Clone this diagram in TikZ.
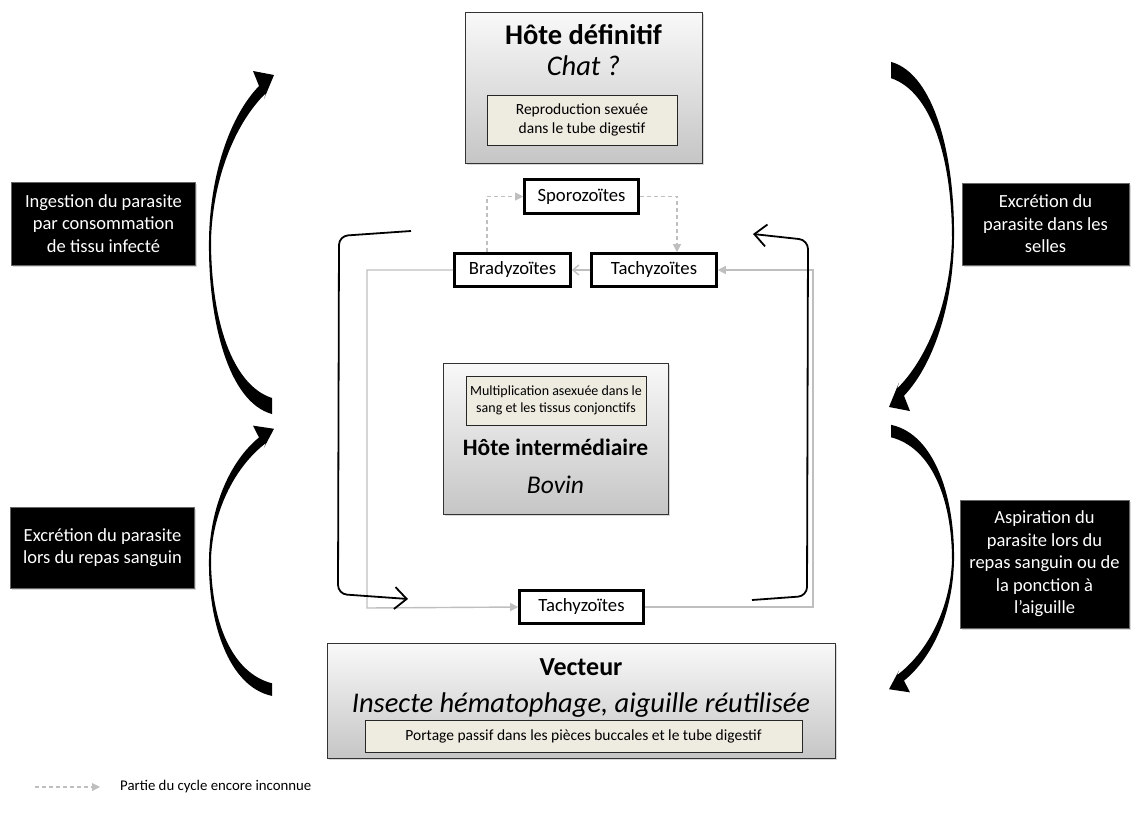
\documentclass[tikz,border=0pt]{standalone}
\usepackage{fontspec}
\setmainfont{Carlito}
\usetikzlibrary{arrows.meta,shadows}
\definecolor{innerfill}{HTML}{EEECE1}
\definecolor{cycgray}{HTML}{BFBFBF}
\newcommand\crescentfill{%
  \fill[black] (0,340) .. controls (-44,328) and (-64,246) .. (-63,166)
      .. controls (-62,100) and (-42,42) .. (-13,12)
      -- (-19,-3) -- (2,1) -- (-8,25) -- (-6,19)
      .. controls (-35,47) and (-59,101) .. (-61,166)
      .. controls (-61,246) and (-40,311) .. (0,324) -- cycle;}
\begin{document}
\begin{tikzpicture}[x=1pt,y=-1pt,
  bigbox/.style={draw=black!80, line width=0.9pt, top color=gray!5, bottom color=gray!45,
    drop shadow={opacity=0.3,shadow xshift=1.5pt,shadow yshift=-1.5pt}},
  innerbox/.style={draw=black!85, line width=0.9pt, fill=innerfill, align=center, inner sep=0pt,
    font=\fontsize{15.5}{18.5}\selectfont},
  blackbox/.style={fill=black, draw=black!60, line width=0.8pt, align=center, text=white, inner sep=0pt,
    font=\fontsize{18.5}{22.5}\selectfont,
    drop shadow={opacity=0.3,shadow xshift=1.5pt,shadow yshift=-1.5pt}},
  stage/.style={draw=black, line width=2.6pt, fill=white, inner sep=0pt,
    font=\fontsize{18.7}{21}\selectfont},
  titlebf/.style={font=\bfseries\fontsize{28.5}{32}\selectfont, inner sep=0pt},
  titleit/.style={font=\itshape\fontsize{28.5}{32}\selectfont, inner sep=0pt},
  cyc/.style={draw=cycgray, line width=1.4pt, -{Triangle[length=8pt,width=8pt]}},
  unk/.style={draw=cycgray, line width=1.1pt, dash pattern=on 4pt off 3pt, -{Triangle[length=8pt,width=8pt]}},
  flow/.style={draw=black, line width=1.8pt, rounded corners=9pt,
    -{Straight Barb[length=12pt,width=22pt,line width=1.8pt]}}]
\useasboundingbox (0,0) rectangle (1138,814);

% big boxes
\node[bigbox, minimum width=237pt, minimum height=151pt] (hd) at (583.5,87.5) {};
\node[titlebf] (hdt) at (583.5,35) {Hôte définitif};
\node[titleit] (hds) at (583.5,65.5) {Chat ?};
\node[innerbox, minimum width=190pt, minimum height=50pt] (hdi) at (582,120) {Reproduction sexuée\\dans le tube digestif};

\node[bigbox, minimum width=225pt, minimum height=151pt] (hi) at (555.5,438.5) {};
\node[innerbox, minimum width=180pt, minimum height=49pt, font=\fontsize{14}{17.5}\selectfont] (hii) at (556,400.5) {Multiplication asexuée dans le\\sang et les tissus conjonctifs};
\node[titlebf, font=\bfseries\fontsize{23.5}{27}\selectfont] (hit) at (555.5,447.5) {Hôte intermédiaire};
\node[titleit, font=\itshape\fontsize{25.5}{29}\selectfont] (his) at (555.5,485) {Bovin};

\node[bigbox, minimum width=508pt, minimum height=115pt] (ve) at (581,700.5) {};
\node[titlebf, font=\bfseries\fontsize{26}{30}\selectfont] (vet) at (581,667.5) {Vecteur};
\node[titleit] (ves) at (581,705) {Insecte hématophage, aiguille réutilisée};
\node[innerbox, minimum width=437pt, minimum height=32pt] (vei) at (583.5,736) {Portage passif dans les pièces buccales et le tube digestif};

% black boxes
\node[blackbox, minimum width=184pt, minimum height=83pt] (l1) at (103.5,223.5) {Ingestion du parasite\\par consommation\\de tissu infecté};
\node[blackbox, minimum width=184pt, minimum height=81pt] (l2) at (102.5,547.5) {Excrétion du parasite\\lors du repas sanguin};
\node[blackbox, minimum width=167pt, minimum height=82pt] (r1) at (1045.5,224) {Excrétion du\\parasite dans les\\selles};
\node[blackbox, minimum width=169pt, minimum height=128pt] (r2) at (1044.5,564) {Aspiration du\\parasite lors du\\repas sanguin ou de\\la ponction à\\l’aiguille};

% crescent arrows
\begin{scope}[shift={(272,74)}]
  \crescentfill
\end{scope}
\begin{scope}[shift={(272,428)}, yscale=0.788]
  \crescentfill
\end{scope}
\begin{scope}[shift={(891,408)}, xscale=-1, yscale=-1.018]
  \crescentfill
\end{scope}
\begin{scope}[shift={(891,690)}, xscale=-1, yscale=-0.78]
  \crescentfill
\end{scope}

% stages
\node[stage, minimum width=114pt, minimum height=34pt] (sporo) at (581.5,196.5) {Sporozoïtes};
\node[stage, minimum width=116pt, minimum height=33pt] (brady) at (512.5,270) {Bradyzoïtes};
\node[stage, minimum width=125pt, minimum height=33pt] (tachyT) at (654,270) {Tachyzoïtes};
\node[stage, minimum width=124pt, minimum height=33pt] (tachyB) at (581.5,607) {Tachyzoïtes};

% cycle
\coordinate (cycL) at (367,608);
\coordinate (cycR) at (813,270);
\draw[cyc] (brady.west) -| (cycL) -- (tachyB.west);
\draw[cyc] (tachyB.east) -| (cycR) -- (tachyT.east);
\draw[draw=cycgray, line width=1.4pt, -{Straight Barb[length=6pt,width=10pt,line width=1.4pt]}] (tachyT.west) -- (brady.east);

% unknown part
\coordinate (dL) at (487,197);
\coordinate (dR) at (677,197);
\draw[unk] (brady.north -| dL) |- (sporo.west);
\draw[unk] (sporo.east) -| (dR |- tachyT.north);

% flows
\coordinate (fl1) at (411,231);
\coordinate (fl2) at (408,599);
\coordinate (fr1) at (752,600);
\coordinate (fr2) at (753,234);
\draw[flow] (fl1) -- (339,236) -- (338,594) -- (fl2);
\draw[flow] (fr1) -- (807,596) -- (808,240) -- (fr2);

% legend
\coordinate (lg1) at (35,787);
\coordinate (lg2) at (100,787);
\draw[unk] (lg1) -- (lg2);
\node[anchor=west, inner sep=0pt, font=\fontsize{14.8}{17}\selectfont] (lgt) at (120,787) {Partie du cycle encore inconnue};
\end{tikzpicture}
\end{document}
